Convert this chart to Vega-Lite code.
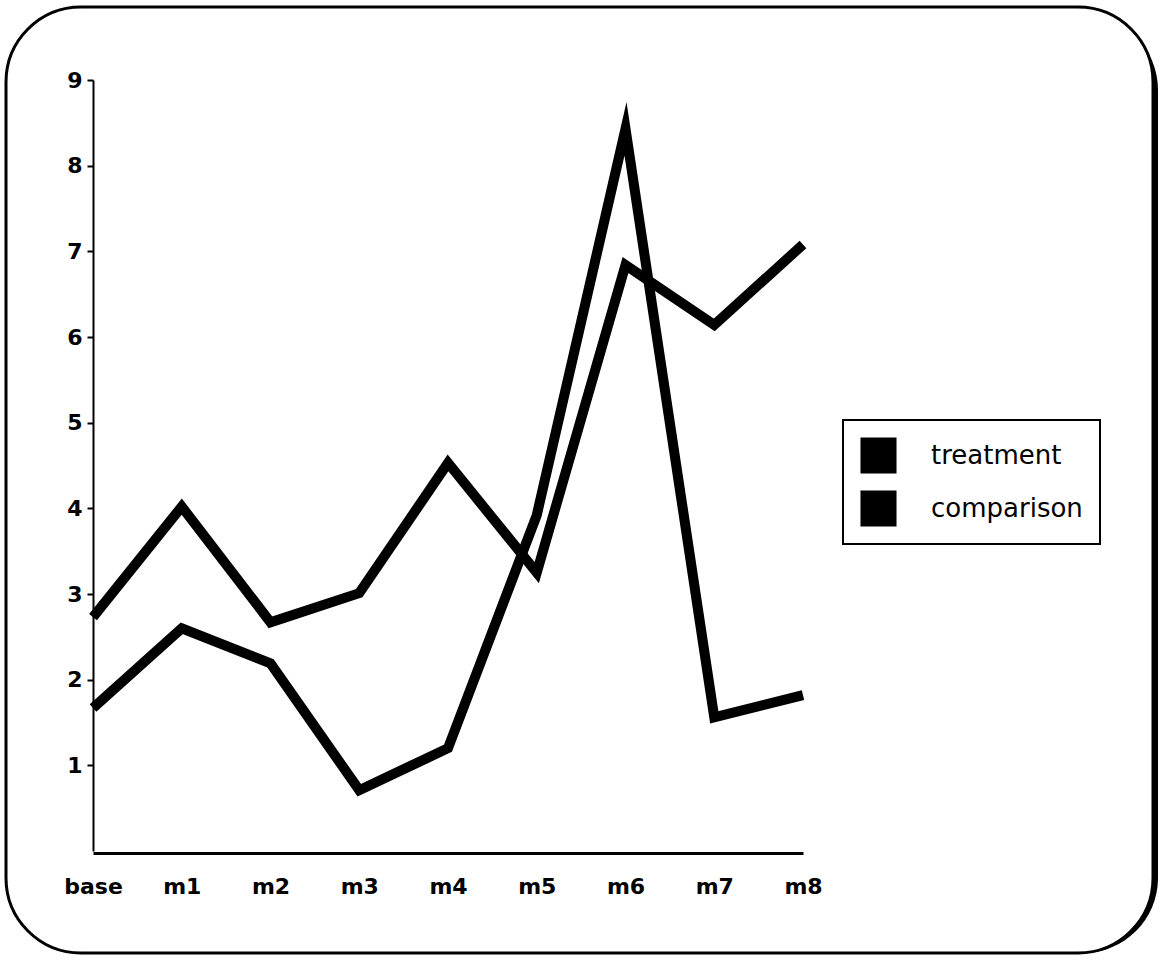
{
  "$schema": "https://vega.github.io/schema/vega-lite/v6.json",
  "width": 1147,
  "height": 946,
  "autosize": {"type": "none"},
  "padding": {"left": 6, "top": 7, "right": 7, "bottom": 11},
  "background": "white",
  "config": {"view": {"stroke": null}, "font": "DejaVu Sans"},
  "data": {
    "values": [
      {"month": "base", "group": "treatment", "value": 2.73},
      {"month": "m1", "group": "treatment", "value": 4.02},
      {"month": "m2", "group": "treatment", "value": 2.67},
      {"month": "m3", "group": "treatment", "value": 3.01},
      {"month": "m4", "group": "treatment", "value": 4.53},
      {"month": "m5", "group": "treatment", "value": 3.25},
      {"month": "m6", "group": "treatment", "value": 6.84},
      {"month": "m7", "group": "treatment", "value": 6.14},
      {"month": "m8", "group": "treatment", "value": 7.08},
      {"month": "base", "group": "comparison", "value": 1.67},
      {"month": "m1", "group": "comparison", "value": 2.6},
      {"month": "m2", "group": "comparison", "value": 2.19},
      {"month": "m3", "group": "comparison", "value": 0.71},
      {"month": "m4", "group": "comparison", "value": 1.2},
      {"month": "m5", "group": "comparison", "value": 3.92},
      {"month": "m6", "group": "comparison", "value": 8.43},
      {"month": "m7", "group": "comparison", "value": 1.56},
      {"month": "m8", "group": "comparison", "value": 1.82}
    ]
  },
  "layer": [
    {
      "transform": [{"aggregate": [{"op": "count", "as": "n"}]}],
      "mark": {"type": "rect", "fill": "black", "cornerRadius": 75, "xOffset": 5, "x2Offset": 5, "yOffset": 8, "y2Offset": 8},
      "encoding": {}
    },
    {
      "transform": [{"aggregate": [{"op": "count", "as": "n"}]}],
      "mark": {"type": "rect", "fill": "white", "stroke": "black", "strokeWidth": 3, "cornerRadius": 75},
      "encoding": {}
    },
    {
      "mark": {"type": "line", "strokeWidth": 10, "strokeJoin": "miter", "strokeMiterLimit": 12, "strokeCap": "butt"},
      "encoding": {
        "x": {
          "field": "month",
          "type": "ordinal",
          "sort": ["base", "m1", "m2", "m3", "m4", "m5", "m6", "m7", "m8"],
          "scale": {"type": "point", "range": [87, 797], "padding": 0},
          "axis": {
            "title": null,
            "labelAngle": 0,
            "offset": -100,
            "ticks": false,
            "tickSize": 0,
            "grid": false,
            "domainColor": "black",
            "domainWidth": 3,
            "labelFont": "DejaVu Sans",
            "labelFontSize": 22,
            "labelFontWeight": "bold",
            "labelColor": "black",
            "labelBaseline": "middle",
            "labelPadding": 33,
            "zindex": 1
          }
        },
        "y": {
          "field": "value",
          "type": "quantitative",
          "scale": {"domain": [0, 9], "range": [844, 73], "nice": false, "zero": false},
          "axis": {
            "title": null,
            "values": [1, 2, 3, 4, 5, 6, 7, 8, 9],
            "offset": -87,
            "grid": false,
            "domainColor": "black",
            "domainWidth": 2,
            "tickColor": "black",
            "tickWidth": 2,
            "tickSize": 6,
            "labelFont": "DejaVu Sans",
            "labelFontSize": 22,
            "labelFontWeight": "bold",
            "labelColor": "black",
            "labelPadding": 5,
            "zindex": 1
          }
        },
        "color": {
          "field": "group",
          "type": "nominal",
          "scale": {"domain": ["treatment", "comparison"], "range": ["black", "black"]},
          "legend": {
            "title": null,
            "orient": "none",
            "legendX": 837,
            "legendY": 413,
            "symbolType": "square",
            "symbolSize": 1300,
            "symbolStrokeWidth": 0,
            "symbolFillColor": "black",
            "labelFont": "DejaVu Sans",
            "labelFontSize": 26,
            "labelColor": "black",
            "labelOffset": 34,
            "rowPadding": 16,
            "padding": 17,
            "strokeColor": "black",
            "fillColor": "white",
            "zindex": 1,
            "encode": {
              "symbols": {"update": {"fill": {"value": "black"}, "stroke": {"value": "black"}, "strokeWidth": {"value": 0}}},
              "legend": {"update": {"strokeWidth": {"value": 2}}}
            }
          }
        }
      }
    }
  ]
}
